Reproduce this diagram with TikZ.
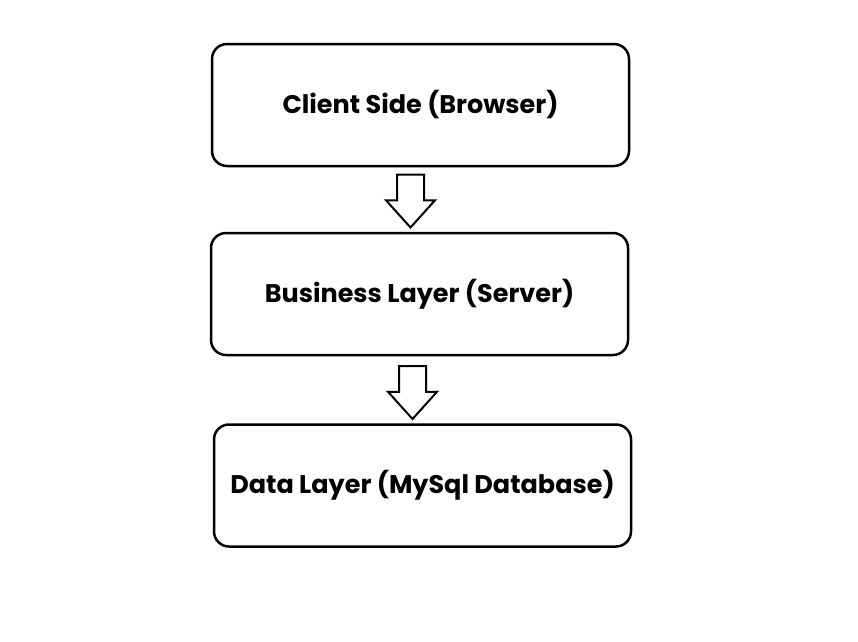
\documentclass[tikz,border=0pt]{standalone}
\usepackage{fontspec}
\setmainfont{Poppins}
\usetikzlibrary{shapes.arrows}
\begin{document}
\begin{tikzpicture}[x=1pt,y=-1pt]

    \tikzset{
      layer/.style={
        draw,
        line width=2.5pt,
        rounded corners=15pt,
        minimum width=417pt,
        minimum height=122pt,
        font=\fontsize{25.5}{30}\selectfont\bfseries,
      },
      flow/.style={
        draw,
        single arrow,
        line width=2pt,
        rotate=-90,
        inner sep=12.5pt,
        single arrow head extend=11pt,
        single arrow tip angle=84,
        minimum height=53pt,
      },
    }
    \useasboundingbox (0,0) rectangle (858,641);
	\node[layer] (client) at (420.5,105) {Client Side (Browser)};
	\node[layer] (business) at (419.5,294) {Business Layer (Server)};
	\node[layer] (data) at (422.5,485.5) {Data Layer (MySql Database)};
	\node[flow] (toserver) at (410.5,193.5) {};
	\node[flow] (todata) at (412.5,385) {};

\end{tikzpicture}
\end{document}
